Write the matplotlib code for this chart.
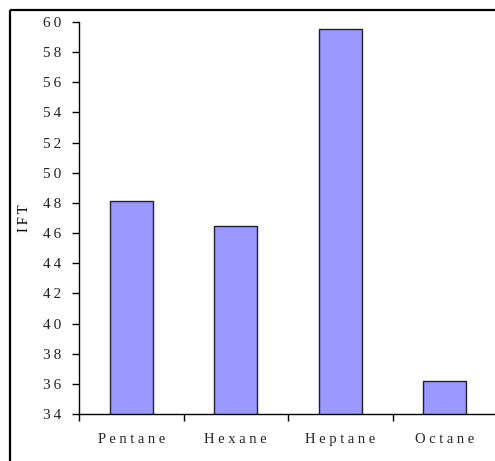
import matplotlib
matplotlib.use("Agg")
import matplotlib.pyplot as plt
from matplotlib.lines import Line2D
from matplotlib.ticker import FixedLocator

solvents = ["Pentane", "Hexane", "Heptane", "Octane"]
ift = [48.1, 46.45, 59.55, 36.2]
yticks = list(range(34, 61, 2))

plt.rcParams['font.family'] = ['Liberation Serif', 'DejaVu Serif']

fig = plt.figure(figsize=(4.95, 4.61), dpi=100)
ax = fig.add_axes([79 / 495, 47 / 461, 418 / 495, 392 / 461])
ax.patch.set_visible(False)

x = list(range(len(solvents)))
ax.bar(x, ift, width=0.41, color="#9999ff", edgecolor="#222222", linewidth=1.0)

ax.set_ylim(34, 60)
ax.set_xlim(-0.5, 3.5)
ax.set_yticks(yticks)
ax.set_yticklabels(["\u2009".join(str(v)) for v in yticks], fontsize=11, color="#222222")

# boundaries between categories carry the tick marks, names sit in the middle
ax.xaxis.set_major_locator(FixedLocator([-0.5, 0.5, 1.5, 2.5]))
ax.xaxis.set_minor_locator(FixedLocator(x))
ax.set_xticklabels([], minor=False)
ax.set_xticklabels([" ".join(s) for s in solvents], minor=True, fontsize=10.5, color="#222222")
ax.tick_params(axis="x", which="major", length=5, width=1, direction="out")
ax.tick_params(axis="x", which="minor", length=0, pad=14)
ax.tick_params(axis="y", length=5, width=1, direction="out", pad=8)

for side in ["top", "right"]:
    ax.spines[side].set_visible(False)
ax.spines["left"].set_linewidth(1)
ax.spines["bottom"].set_linewidth(1)

ax.set_ylabel("\u2009".join("IFT"), fontsize=10.5)
ax.yaxis.set_label_coords(-0.115, 0.5)

# outer chart frame: only left and top edges are inside the picture
fl, ft = 10 / 495, 1 - 10 / 461
fig.add_artist(Line2D([fl, fl], [0, ft], transform=fig.transFigure, color="black",
                      linewidth=1.6, solid_capstyle="butt"))
fig.add_artist(Line2D([fl, 1], [ft, ft], transform=fig.transFigure, color="black",
                      linewidth=1.6, solid_capstyle="butt"))

fig.savefig("out.png", dpi=100)
